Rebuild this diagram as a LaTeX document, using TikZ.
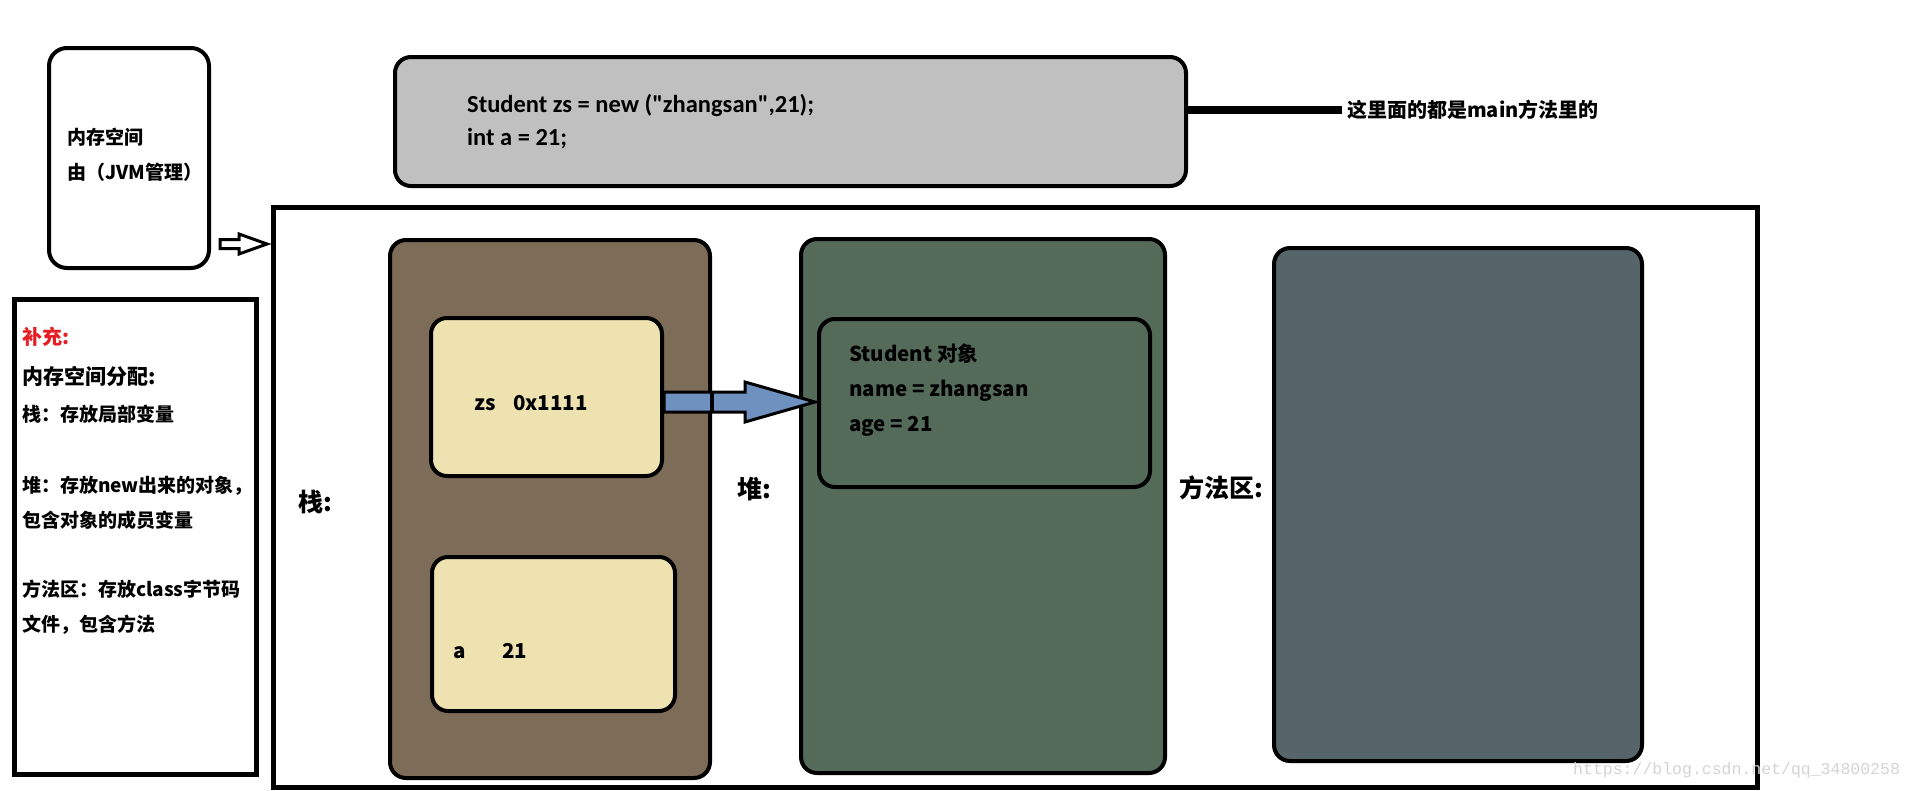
\documentclass[tikz,border=0pt]{standalone}
\usepackage{fontspec}
\setmainfont{Noto Sans CJK SC}
\newfontfamily\codefont{Carlito}
\newfontfamily\wmfont{Liberation Mono}
\usetikzlibrary{calc}
\definecolor{stackc}{RGB}{125,108,88}
\definecolor{cellc}{RGB}{238,226,176}
\definecolor{heapc}{RGB}{85,107,90}
\definecolor{methc}{RGB}{86,101,106}
\definecolor{codec}{RGB}{192,192,192}
\definecolor{arrowc}{RGB}{111,145,191}
\definecolor{redc}{RGB}{230,30,36}
\definecolor{wmc}{RGB}{212,212,212}
\tikzset{
  box/.style={draw, line width=4pt, inner sep=0pt, rounded corners=16pt},
  plainbox/.style={draw, line width=5pt, inner sep=0pt},
  txt/.style={anchor=west, inner sep=0pt, text height=16.7pt, text depth=2.3pt, font=\bfseries\fontsize{19}{23}\selectfont},
  objtxt/.style={anchor=west, inner sep=0pt, text height=18pt, text depth=2.5pt, font=\bfseries\fontsize{20.5}{24}\selectfont},
  bigtxt/.style={anchor=west, inner sep=0pt, font=\bfseries\fontsize{25}{30}\selectfont},
  codetxt/.style={anchor=west, inner sep=0pt, font=\codefont\bfseries\fontsize{24.5}{28}\selectfont},
}
\begin{document}
\begin{tikzpicture}[x=1pt,y=-1pt]
\fill[white] (0,0) rectangle (1914,790);
\useasboundingbox (0,0) rectangle (1914,790);

% left boxes
\node[box, rounded corners=18pt, fill=white, minimum width=160pt, minimum height=220pt] (mem) at (129,158) {};
\node[txt] (memt1) at (67,137) {内存空间};
\node[txt] (memt2) at (67,172) {由（JVM管理）};

\node[plainbox, fill=white, minimum width=242pt, minimum height=475pt] (note) at (135,537) {};
\node[txt, text=redc, font=\bfseries\fontsize{20}{24}\selectfont] (n1) at (22,337) {补充:};
\node[txt, font=\bfseries\fontsize{21}{25}\selectfont] (n2) at (22,377) {内存空间分配:};
\node[txt] (n3) at (22,414) {栈：存放局部变量};
\node[txt] (n4) at (22,485) {堆：存放new出来的对象，};
\node[txt] (n5) at (22,520) {包含对象的成员变量};
\node[txt] (n6) at (22,589) {方法区：存放class字节码};
\node[txt] (n7) at (22,624) {文件，包含方法};

% code box
\node[box, fill=codec, minimum width=791pt, minimum height=129pt] (code) at (790.5,121.5) {};
\node[codetxt] (c1) at (467,105) {Student zs = new ("zhangsan",21);};
\node[codetxt] (c2) at (467,139) {int a = 21;};
\coordinate (calloutend) at (1342,110);
\draw[line width=8pt] ([yshift=11.5pt]code.east) -- (calloutend);
\node[txt, font=\bfseries\fontsize{20}{24}\selectfont] (callout) at (1347,110) {这里面的都是main方法里的};

% outer memory area
\node[plainbox, minimum width=1484pt, minimum height=580pt] (outer) at (1015.5,497) {};

% stack
\node[box, fill=stackc, minimum width=320pt, minimum height=538pt] (stack) at (550,509) {};
\node[box, fill=cellc, minimum width=231pt, minimum height=158pt] (zs) at (546.5,397) {};
\node[objtxt] (zsn) at (474,403) {zs};
\node[objtxt] (zsv) at (513,403) {0x1111};
\node[box, fill=cellc, minimum width=243pt, minimum height=154pt] (abox) at (553.5,634) {};
\node[objtxt] (an) at (453,651) {a};
\node[objtxt] (av) at (502,651) {21};
\node[bigtxt] (stackl) at (298,502) {栈:};

% heap
\node[box, fill=heapc, minimum width=364pt, minimum height=534pt] (heap) at (983,506) {};
\node[box, fill=heapc, minimum width=331pt, minimum height=168pt] (obj) at (984.5,403) {};
\node[objtxt] (o1) at (849,354) {Student 对象};
\node[objtxt] (o2) at (849,389) {name = zhangsan};
\node[objtxt] (o3) at (849,424) {age = 21};
\node[bigtxt] (heapl) at (737,489) {堆:};

% method area
\node[box, fill=methc, minimum width=368pt, minimum height=513pt] (meth) at (1458,504.5) {};
\node[bigtxt] (methl) at (1179,488) {方法区:};

% reference arrow zs -> object
\coordinate (a0) at ($(zs.east)+(0,5)$);
\coordinate (atip) at ($(obj.west)+(-2,-1)$);
\draw[line width=3pt, fill=arrowc, line join=miter]
  ($(a0)+(0,-10)$) -- ($(atip)+(-70,-10)$) -- ($(atip)+(-70,-20)$) -- (atip)
  -- ($(atip)+(-70,20)$) -- ($(atip)+(-70,10)$) -- ($(a0)+(0,10)$) -- cycle;
\draw[line width=4pt] ($(stack.east |- a0)+(0,-11)$) -- ($(stack.east |- a0)+(0,11)$);

% hollow arrow mem -> outer
\coordinate (h0) at ($(mem.east)+(9,86)$);
\coordinate (htip) at ($(outer.west |- h0)+(-4,0)$);
\draw[line width=3pt, fill=white, line join=miter]
  ($(h0)+(0,-4.5)$) -- ($(htip)+(-28,-4.5)$) -- ($(htip)+(-28,-10)$) -- (htip)
  -- ($(htip)+(-28,10)$) -- ($(htip)+(-28,4.5)$) -- ($(h0)+(0,4.5)$) -- cycle;

% watermark
\node[anchor=west, inner sep=0pt, text=wmc, font=\wmfont\fontsize{16.5}{20}\selectfont] (wm) at (1573,770) {https://blog.csdn.net/qq\_34800258};
\end{tikzpicture}
\end{document}
